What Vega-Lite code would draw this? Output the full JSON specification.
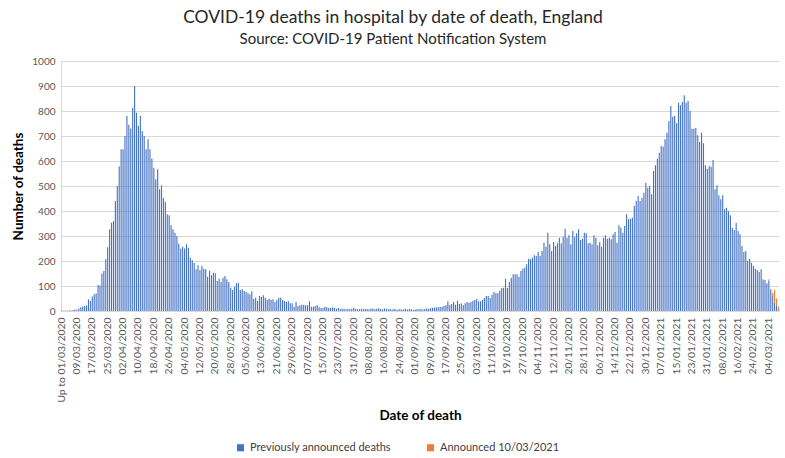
{
  "$schema": "https://vega.github.io/schema/vega-lite/v6.json",
  "width": 718,
  "height": 250,
  "autosize": {"type": "none"},
  "padding": {"left": 61, "top": 61, "right": 6, "bottom": 147},
  "background": "white",
  "title": {
    "text": "COVID-19 deaths in hospital by date of death, England",
    "subtitle": "Source: COVID-19 Patient Notification System",
    "anchor": "middle",
    "dx": -27,
    "offset": 9,
    "font": "Lato",
    "fontSize": 17.5,
    "fontWeight": "normal",
    "color": "#262626",
    "subtitleFont": "Lato",
    "subtitleFontSize": 15,
    "subtitleColor": "#262626",
    "subtitlePadding": 6
  },
  "config": {"view": {"stroke": null}},
  "data": {"values": [
    {"date":"Up to 01/03/2020","deaths":3},
    {"date":"02/03/2020","deaths":1},{"date":"03/03/2020","deaths":2},{"date":"04/03/2020","deaths":1},{"date":"05/03/2020","deaths":3},{"date":"06/03/2020","deaths":2},{"date":"07/03/2020","deaths":4},{"date":"08/03/2020","deaths":6},{"date":"09/03/2020","deaths":5},{"date":"10/03/2020","deaths":10},{"date":"11/03/2020","deaths":15},{"date":"12/03/2020","deaths":18},{"date":"13/03/2020","deaths":20},{"date":"14/03/2020","deaths":22},{"date":"15/03/2020","deaths":47},{"date":"16/03/2020","deaths":40},{"date":"17/03/2020","deaths":58},{"date":"18/03/2020","deaths":67},{"date":"19/03/2020","deaths":70},{"date":"20/03/2020","deaths":104},{"date":"21/03/2020","deaths":102},{"date":"22/03/2020","deaths":150},{"date":"23/03/2020","deaths":160},{"date":"24/03/2020","deaths":207},{"date":"25/03/2020","deaths":255},{"date":"26/03/2020","deaths":327},{"date":"27/03/2020","deaths":353},{"date":"28/03/2020","deaths":360},{"date":"29/03/2020","deaths":440},{"date":"30/03/2020","deaths":500},{"date":"31/03/2020","deaths":578},
    {"date":"01/04/2020","deaths":647},{"date":"02/04/2020","deaths":647},{"date":"03/04/2020","deaths":700},{"date":"04/04/2020","deaths":780},{"date":"05/04/2020","deaths":745},{"date":"06/04/2020","deaths":730},{"date":"07/04/2020","deaths":813},{"date":"08/04/2020","deaths":900},{"date":"09/04/2020","deaths":793},{"date":"10/04/2020","deaths":740},{"date":"11/04/2020","deaths":780},{"date":"12/04/2020","deaths":720},{"date":"13/04/2020","deaths":700},{"date":"14/04/2020","deaths":647},{"date":"15/04/2020","deaths":687},{"date":"16/04/2020","deaths":647},{"date":"17/04/2020","deaths":610},{"date":"18/04/2020","deaths":573},{"date":"19/04/2020","deaths":527},{"date":"20/04/2020","deaths":567},{"date":"21/04/2020","deaths":487},{"date":"22/04/2020","deaths":503},{"date":"23/04/2020","deaths":453},{"date":"24/04/2020","deaths":437},{"date":"25/04/2020","deaths":387},{"date":"26/04/2020","deaths":383},{"date":"27/04/2020","deaths":343},{"date":"28/04/2020","deaths":327},{"date":"29/04/2020","deaths":313},{"date":"30/04/2020","deaths":300},
    {"date":"01/05/2020","deaths":270},{"date":"02/05/2020","deaths":250},{"date":"03/05/2020","deaths":257},{"date":"04/05/2020","deaths":250},{"date":"05/05/2020","deaths":267},{"date":"06/05/2020","deaths":253},{"date":"07/05/2020","deaths":213},{"date":"08/05/2020","deaths":203},{"date":"09/05/2020","deaths":192},{"date":"10/05/2020","deaths":167},{"date":"11/05/2020","deaths":183},{"date":"12/05/2020","deaths":164},{"date":"13/05/2020","deaths":180},{"date":"14/05/2020","deaths":169},{"date":"15/05/2020","deaths":167},{"date":"16/05/2020","deaths":137},{"date":"17/05/2020","deaths":161},{"date":"18/05/2020","deaths":143},{"date":"19/05/2020","deaths":153},{"date":"20/05/2020","deaths":151},{"date":"21/05/2020","deaths":120},{"date":"22/05/2020","deaths":129},{"date":"23/05/2020","deaths":116},{"date":"24/05/2020","deaths":133},{"date":"25/05/2020","deaths":140},{"date":"26/05/2020","deaths":127},{"date":"27/05/2020","deaths":116},{"date":"28/05/2020","deaths":93},{"date":"29/05/2020","deaths":84},{"date":"30/05/2020","deaths":97},{"date":"31/05/2020","deaths":111},
    {"date":"01/06/2020","deaths":113},{"date":"02/06/2020","deaths":84},{"date":"03/06/2020","deaths":87},{"date":"04/06/2020","deaths":80},{"date":"05/06/2020","deaths":76},{"date":"06/06/2020","deaths":71},{"date":"07/06/2020","deaths":67},{"date":"08/06/2020","deaths":79},{"date":"09/06/2020","deaths":49},{"date":"10/06/2020","deaths":53},{"date":"11/06/2020","deaths":40},{"date":"12/06/2020","deaths":60},{"date":"13/06/2020","deaths":57},{"date":"14/06/2020","deaths":63},{"date":"15/06/2020","deaths":53},{"date":"16/06/2020","deaths":44},{"date":"17/06/2020","deaths":49},{"date":"18/06/2020","deaths":44},{"date":"19/06/2020","deaths":47},{"date":"20/06/2020","deaths":36},{"date":"21/06/2020","deaths":44},{"date":"22/06/2020","deaths":53},{"date":"23/06/2020","deaths":53},{"date":"24/06/2020","deaths":44},{"date":"25/06/2020","deaths":40},{"date":"26/06/2020","deaths":36},{"date":"27/06/2020","deaths":40},{"date":"28/06/2020","deaths":31},{"date":"29/06/2020","deaths":31},{"date":"30/06/2020","deaths":17},
    {"date":"01/07/2020","deaths":36},{"date":"02/07/2020","deaths":20},{"date":"03/07/2020","deaths":23},{"date":"04/07/2020","deaths":25},{"date":"05/07/2020","deaths":25},{"date":"06/07/2020","deaths":23},{"date":"07/07/2020","deaths":23},{"date":"08/07/2020","deaths":39},{"date":"09/07/2020","deaths":17},{"date":"10/07/2020","deaths":17},{"date":"11/07/2020","deaths":20},{"date":"12/07/2020","deaths":23},{"date":"13/07/2020","deaths":15},{"date":"14/07/2020","deaths":12},{"date":"15/07/2020","deaths":12},{"date":"16/07/2020","deaths":17},{"date":"17/07/2020","deaths":15},{"date":"18/07/2020","deaths":12},{"date":"19/07/2020","deaths":12},{"date":"20/07/2020","deaths":15},{"date":"21/07/2020","deaths":12},{"date":"22/07/2020","deaths":9},{"date":"23/07/2020","deaths":12},{"date":"24/07/2020","deaths":9},{"date":"25/07/2020","deaths":9},{"date":"26/07/2020","deaths":9},{"date":"27/07/2020","deaths":7},{"date":"28/07/2020","deaths":9},{"date":"29/07/2020","deaths":7},{"date":"30/07/2020","deaths":9},{"date":"31/07/2020","deaths":12},
    {"date":"01/08/2020","deaths":9},{"date":"02/08/2020","deaths":7},{"date":"03/08/2020","deaths":7},{"date":"04/08/2020","deaths":9},{"date":"05/08/2020","deaths":7},{"date":"06/08/2020","deaths":9},{"date":"07/08/2020","deaths":8},{"date":"08/08/2020","deaths":7},{"date":"09/08/2020","deaths":9},{"date":"10/08/2020","deaths":10},{"date":"11/08/2020","deaths":7},{"date":"12/08/2020","deaths":9},{"date":"13/08/2020","deaths":11},{"date":"14/08/2020","deaths":8},{"date":"15/08/2020","deaths":6},{"date":"16/08/2020","deaths":10},{"date":"17/08/2020","deaths":9},{"date":"18/08/2020","deaths":7},{"date":"19/08/2020","deaths":8},{"date":"20/08/2020","deaths":6},{"date":"21/08/2020","deaths":9},{"date":"22/08/2020","deaths":7},{"date":"23/08/2020","deaths":5},{"date":"24/08/2020","deaths":8},{"date":"25/08/2020","deaths":6},{"date":"26/08/2020","deaths":7},{"date":"27/08/2020","deaths":9},{"date":"28/08/2020","deaths":6},{"date":"29/08/2020","deaths":8},{"date":"30/08/2020","deaths":7},{"date":"31/08/2020","deaths":5},
    {"date":"01/09/2020","deaths":6},{"date":"02/09/2020","deaths":8},{"date":"03/09/2020","deaths":7},{"date":"04/09/2020","deaths":9},{"date":"05/09/2020","deaths":6},{"date":"06/09/2020","deaths":8},{"date":"07/09/2020","deaths":10},{"date":"08/09/2020","deaths":9},{"date":"09/09/2020","deaths":11},{"date":"10/09/2020","deaths":12},{"date":"11/09/2020","deaths":13},{"date":"12/09/2020","deaths":15},{"date":"13/09/2020","deaths":15},{"date":"14/09/2020","deaths":16},{"date":"15/09/2020","deaths":17},{"date":"16/09/2020","deaths":20},{"date":"17/09/2020","deaths":23},{"date":"18/09/2020","deaths":39},{"date":"19/09/2020","deaths":25},{"date":"20/09/2020","deaths":28},{"date":"21/09/2020","deaths":36},{"date":"22/09/2020","deaths":25},{"date":"23/09/2020","deaths":41},{"date":"24/09/2020","deaths":28},{"date":"25/09/2020","deaths":30},{"date":"26/09/2020","deaths":23},{"date":"27/09/2020","deaths":31},{"date":"28/09/2020","deaths":36},{"date":"29/09/2020","deaths":33},{"date":"30/09/2020","deaths":36},
    {"date":"01/10/2020","deaths":41},{"date":"02/10/2020","deaths":44},{"date":"03/10/2020","deaths":49},{"date":"04/10/2020","deaths":39},{"date":"05/10/2020","deaths":39},{"date":"06/10/2020","deaths":44},{"date":"07/10/2020","deaths":52},{"date":"08/10/2020","deaths":60},{"date":"09/10/2020","deaths":60},{"date":"10/10/2020","deaths":52},{"date":"11/10/2020","deaths":65},{"date":"12/10/2020","deaths":76},{"date":"13/10/2020","deaths":71},{"date":"14/10/2020","deaths":71},{"date":"15/10/2020","deaths":81},{"date":"16/10/2020","deaths":92},{"date":"17/10/2020","deaths":93},{"date":"18/10/2020","deaths":129},{"date":"19/10/2020","deaths":92},{"date":"20/10/2020","deaths":116},{"date":"21/10/2020","deaths":133},{"date":"22/10/2020","deaths":147},{"date":"23/10/2020","deaths":147},{"date":"24/10/2020","deaths":147},{"date":"25/10/2020","deaths":137},{"date":"26/10/2020","deaths":160},{"date":"27/10/2020","deaths":169},{"date":"28/10/2020","deaths":173},{"date":"29/10/2020","deaths":187},{"date":"30/10/2020","deaths":209},{"date":"31/10/2020","deaths":207},
    {"date":"01/11/2020","deaths":213},{"date":"02/11/2020","deaths":223},{"date":"03/11/2020","deaths":220},{"date":"04/11/2020","deaths":236},{"date":"05/11/2020","deaths":220},{"date":"06/11/2020","deaths":240},{"date":"07/11/2020","deaths":273},{"date":"08/11/2020","deaths":257},{"date":"09/11/2020","deaths":313},{"date":"10/11/2020","deaths":267},{"date":"11/11/2020","deaths":240},{"date":"12/11/2020","deaths":276},{"date":"13/11/2020","deaths":260},{"date":"14/11/2020","deaths":271},{"date":"15/11/2020","deaths":293},{"date":"16/11/2020","deaths":271},{"date":"17/11/2020","deaths":297},{"date":"18/11/2020","deaths":329},{"date":"19/11/2020","deaths":293},{"date":"20/11/2020","deaths":303},{"date":"21/11/2020","deaths":267},{"date":"22/11/2020","deaths":320},{"date":"23/11/2020","deaths":297},{"date":"24/11/2020","deaths":311},{"date":"25/11/2020","deaths":327},{"date":"26/11/2020","deaths":284},{"date":"27/11/2020","deaths":289},{"date":"28/11/2020","deaths":313},{"date":"29/11/2020","deaths":311},{"date":"30/11/2020","deaths":271},
    {"date":"01/12/2020","deaths":273},{"date":"02/12/2020","deaths":267},{"date":"03/12/2020","deaths":303},{"date":"04/12/2020","deaths":293},{"date":"05/12/2020","deaths":263},{"date":"06/12/2020","deaths":276},{"date":"07/12/2020","deaths":257},{"date":"08/12/2020","deaths":293},{"date":"09/12/2020","deaths":303},{"date":"10/12/2020","deaths":289},{"date":"11/12/2020","deaths":293},{"date":"12/12/2020","deaths":287},{"date":"13/12/2020","deaths":307},{"date":"14/12/2020","deaths":316},{"date":"15/12/2020","deaths":273},{"date":"16/12/2020","deaths":343},{"date":"17/12/2020","deaths":333},{"date":"18/12/2020","deaths":313},{"date":"19/12/2020","deaths":340},{"date":"20/12/2020","deaths":387},{"date":"21/12/2020","deaths":367},{"date":"22/12/2020","deaths":369},{"date":"23/12/2020","deaths":373},{"date":"24/12/2020","deaths":420},{"date":"25/12/2020","deaths":440},{"date":"26/12/2020","deaths":460},{"date":"27/12/2020","deaths":440},{"date":"28/12/2020","deaths":453},{"date":"29/12/2020","deaths":473},{"date":"30/12/2020","deaths":513},{"date":"31/12/2020","deaths":493},
    {"date":"01/01/2021","deaths":500},{"date":"02/01/2021","deaths":467},{"date":"03/01/2021","deaths":560},{"date":"04/01/2021","deaths":583},{"date":"05/01/2021","deaths":609},{"date":"06/01/2021","deaths":633},{"date":"07/01/2021","deaths":660},{"date":"08/01/2021","deaths":657},{"date":"09/01/2021","deaths":687},{"date":"10/01/2021","deaths":713},{"date":"11/01/2021","deaths":760},{"date":"12/01/2021","deaths":820},{"date":"13/01/2021","deaths":777},{"date":"14/01/2021","deaths":780},{"date":"15/01/2021","deaths":751},{"date":"16/01/2021","deaths":833},{"date":"17/01/2021","deaths":823},{"date":"18/01/2021","deaths":836},{"date":"19/01/2021","deaths":863},{"date":"20/01/2021","deaths":833},{"date":"21/01/2021","deaths":840},{"date":"22/01/2021","deaths":800},{"date":"23/01/2021","deaths":729},{"date":"24/01/2021","deaths":729},{"date":"25/01/2021","deaths":733},{"date":"26/01/2021","deaths":703},{"date":"27/01/2021","deaths":676},{"date":"28/01/2021","deaths":713},{"date":"29/01/2021","deaths":671},{"date":"30/01/2021","deaths":583},{"date":"31/01/2021","deaths":569},
    {"date":"01/02/2021","deaths":580},{"date":"02/02/2021","deaths":577},{"date":"03/02/2021","deaths":604},{"date":"04/02/2021","deaths":487},{"date":"05/02/2021","deaths":503},{"date":"06/02/2021","deaths":463},{"date":"07/02/2021","deaths":447},{"date":"08/02/2021","deaths":463},{"date":"09/02/2021","deaths":407},{"date":"10/02/2021","deaths":413},{"date":"11/02/2021","deaths":400},{"date":"12/02/2021","deaths":383},{"date":"13/02/2021","deaths":333},{"date":"14/02/2021","deaths":324},{"date":"15/02/2021","deaths":353},{"date":"16/02/2021","deaths":320},{"date":"17/02/2021","deaths":307},{"date":"18/02/2021","deaths":260},{"date":"19/02/2021","deaths":236},{"date":"20/02/2021","deaths":240},{"date":"21/02/2021","deaths":200},{"date":"22/02/2021","deaths":209},{"date":"23/02/2021","deaths":193},{"date":"24/02/2021","deaths":180},{"date":"25/02/2021","deaths":169},{"date":"26/02/2021","deaths":164},{"date":"27/02/2021","deaths":156},{"date":"28/02/2021","deaths":167},
    {"date":"01/03/2021","deaths":127},{"date":"02/03/2021","deaths":124},{"date":"03/03/2021","deaths":111},{"date":"04/03/2021","deaths":122},{"date":"05/03/2021","deaths":86},{"date":"06/03/2021","deaths":60},{"date":"07/03/2021","deaths":35},{"date":"08/03/2021","deaths":20},{"date":"09/03/2021","deaths":0},
    {"date":"04/03/2021","deaths":5,"batch":"new"},{"date":"05/03/2021","deaths":3,"batch":"new"},{"date":"06/03/2021","deaths":13,"batch":"new"},{"date":"07/03/2021","deaths":49,"batch":"new"},{"date":"08/03/2021","deaths":30,"batch":"new"},{"date":"09/03/2021","deaths":17,"batch":"new"}
  ]},
  "transform": [
    {
      "lookup": "batch",
      "from": {
        "data": {"values": [{"batch": "new", "series": "Announced 10/03/2021"}]},
        "key": "batch",
        "fields": ["series"]
      },
      "default": "Previously announced deaths"
    }
  ],
  "mark": {"type": "bar"},
  "encoding": {
    "x": {
      "field": "date",
      "type": "nominal",
      "sort": null,
      "scale": {"paddingInner": 0.42, "paddingOuter": 0},
      "axis": {
        "values": ["Up to 01/03/2020","09/03/2020","17/03/2020","25/03/2020","02/04/2020","10/04/2020","18/04/2020","26/04/2020","04/05/2020","12/05/2020","20/05/2020","28/05/2020","05/06/2020","13/06/2020","21/06/2020","29/06/2020","07/07/2020","15/07/2020","23/07/2020","31/07/2020","08/08/2020","16/08/2020","24/08/2020","01/09/2020","09/09/2020","17/09/2020","25/09/2020","03/10/2020","11/10/2020","19/10/2020","27/10/2020","04/11/2020","12/11/2020","20/11/2020","28/11/2020","06/12/2020","14/12/2020","22/12/2020","30/12/2020","07/01/2021","15/01/2021","23/01/2021","31/01/2021","08/02/2021","16/02/2021","24/02/2021","04/03/2021"],
        "labelAngle": -90,
        "labelAlign": "right",
        "labelBaseline": "middle",
        "labelOverlap": false,
        "ticks": false,
        "labelPadding": 6,
        "labelFont": "Lato",
        "labelFontSize": 10.3,
        "labelColor": "#595959",
        "domainColor": "#D9D9D9",
        "title": "Date of death",
        "titleFont": "Lato",
        "titleFontSize": 13.5,
        "titleFontWeight": "bold",
        "titleColor": "#000000",
        "titlePadding": 6
      }
    },
    "y": {
      "field": "deaths",
      "type": "quantitative",
      "scale": {"domain": [0, 1000], "nice": false},
      "axis": {
        "values": [0, 100, 200, 300, 400, 500, 600, 700, 800, 900, 1000],
        "format": "d",
        "title": "Number of deaths",
        "titleFont": "Lato",
        "titleFontSize": 13.5,
        "titleFontWeight": "bold",
        "titleColor": "#000000",
        "titlePadding": 6,
        "labelFont": "Lato",
        "labelFontSize": 10,
        "labelColor": "#595959",
        "labelPadding": 6,
        "ticks": false,
        "grid": true,
        "gridColor": "#D9D9D9",
        "domainColor": "#D9D9D9"
      }
    },
    "color": {
      "field": "series",
      "type": "nominal",
      "scale": {
        "domain": ["Previously announced deaths", "Announced 10/03/2021"],
        "range": ["#4472C4", "#ED7D31"]
      },
      "legend": {
        "orient": "none",
        "legendX": 174,
        "legendY": 381,
        "direction": "horizontal",
        "title": null,
        "symbolType": "square",
        "symbolSize": 50,
        "symbolStrokeWidth": 0,
        "labelFont": "Lato",
        "labelFontSize": 11,
        "labelColor": "#404040",
        "labelOffset": 4,
        "columnPadding": 34
      }
    },
    "order": {"field": "series", "sort": "descending"}
  }
}
